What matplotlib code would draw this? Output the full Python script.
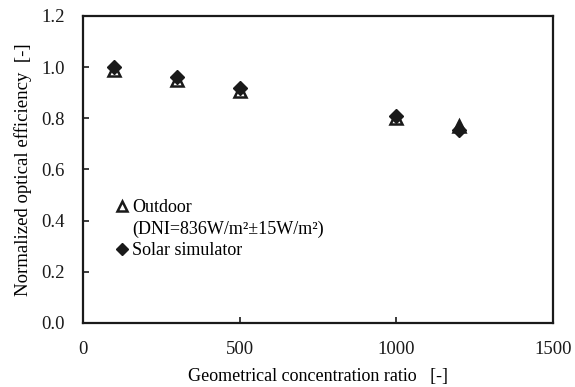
import numpy as np
import matplotlib.pyplot as plt
from matplotlib.lines import Line2D

plt.rcParams['font.family'] = ['Liberation Serif', 'DejaVu Serif']

# concentration ratio and normalized efficiency
ratio = [100, 300, 500, 1000, 1200]
eff_outdoor = [0.99, 0.95, 0.905, 0.80, 0.77]
eff_simulator = [1.00, 0.96, 0.92, 0.81, 0.755]
yticks = [0.0, 0.2, 0.4, 0.6, 0.8, 1.0, 1.2]

ink = '#1a1a1a'

fig = plt.figure(figsize=(5.75, 3.87), dpi=100)
ax = fig.add_axes([0.1443, 0.1654, 0.8174, 0.7933])

ax.plot(ratio, eff_outdoor, linestyle='none', marker='^', markersize=9,
        markerfacecolor='white', markeredgecolor=ink, markeredgewidth=1.8)
ax.plot(ratio, eff_simulator, linestyle='none', marker='D', markersize=7,
        color=ink)

ax.set_xlim(0, 1500)
ax.set_ylim(0, 1.2)
ax.set_xticks([0, 500, 1000, 1500])
ax.set_yticks(yticks)
ax.set_yticklabels([f'{v:.1f}' for v in yticks])
ax.tick_params(direction='in', labelsize=13.5, length=4, width=1.2,
               colors=ink, pad=13)
for s in ax.spines.values():
    s.set_linewidth(1.6)
    s.set_color(ink)

ax.set_xlabel('Geometrical concentration ratio   [-]', fontsize=13, labelpad=7)
ax.set_ylabel('Normalized optical efficiency  [-]', fontsize=13.5, labelpad=7)

# legend: triangle sits on the first line, second line has no marker
handles = [
    Line2D([], [], linestyle='none', marker='^', markersize=7,
           markerfacecolor='white', markeredgecolor=ink, markeredgewidth=1.8),
    Line2D([], [], linestyle='none'),
    Line2D([], [], linestyle='none', marker='D', markersize=6, color=ink),
]
labels = ['Outdoor', '(DNI=836W/m²±15W/m²)', 'Solar simulator']
ax.legend(handles, labels, loc='upper left', bbox_to_anchor=(0.066, 0.404),
          frameon=False, fontsize=13, handletextpad=0.1, handlelength=0.9,
          labelspacing=0.25, borderaxespad=0.0, borderpad=0.0)

fig.savefig('out.png', dpi=100)
